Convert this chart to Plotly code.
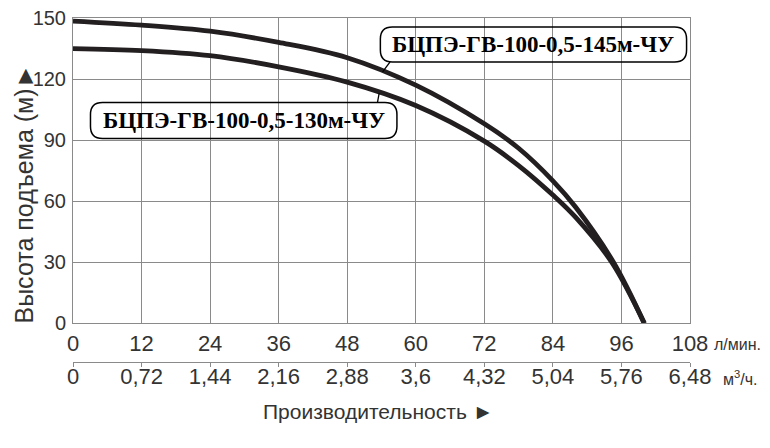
import numpy as np
import plotly.graph_objects as go

# ----- данные -----
q_145 = [0, 12, 24, 36, 48, 60, 72, 78, 84, 88, 94.6, 100]
h_145 = [148.5, 146.5, 143.5, 138, 130.5, 117, 98, 86, 70, 57, 30, 0]

q_130 = [0, 12, 24, 36, 48, 60, 72, 78, 84, 88, 94.3, 100]
h_130 = [135, 134, 131.5, 126, 118.5, 107, 89.5, 77.5, 63, 52, 30, 0]

lpm_ticks = [0, 12, 24, 36, 48, 60, 72, 84, 96, 108]
m3h_labels = ["0", "0,72", "1,44", "2,16", "2,88", "3,6", "4,32", "5,04", "5,76", "6,48"]
head_ticks = [0, 30, 60, 90, 120, 150]

name_145 = "БЦПЭ-ГВ-100-0,5-145м-ЧУ"
name_130 = "БЦПЭ-ГВ-100-0,5-130м-ЧУ"

SANS = "Liberation Sans, Arial, sans-serif"
SERIF = "Liberation Serif, Times New Roman, serif"
GRID = "#8a8a8a"
INK = "#231f20"
TXT = "#333333"

# пикселей на единицу данных (для скругления рамок)
PX_X = 617.5 / 108
PX_Y = 305.6 / 150


def pill(x0, x1, y0, y1, r=12):
    rx, ry = r / PX_X, r / PX_Y
    return (f"M {x0+rx},{y1} L {x1-rx},{y1} Q {x1},{y1} {x1},{y1-ry} "
            f"L {x1},{y0+ry} Q {x1},{y0} {x1-rx},{y0} L {x0+rx},{y0} "
            f"Q {x0},{y0} {x0},{y0+ry} L {x0},{y1-ry} Q {x0},{y1} {x0+rx},{y1} Z")


fig = go.Figure()

fig.add_trace(go.Scatter(x=q_145, y=h_145, mode="lines", name=name_145,
                         line=dict(color=INK, width=4.8, shape="spline", smoothing=1.0)))
fig.add_trace(go.Scatter(x=q_130, y=h_130, mode="lines", name=name_130,
                         line=dict(color=INK, width=4.8, shape="spline", smoothing=1.0)))
# пустой след, чтобы нижняя шкала (м3/ч) отрисовалась
fig.add_trace(go.Scatter(x=[0], y=[0], xaxis="x2", mode="markers",
                         marker=dict(opacity=0), showlegend=False, hoverinfo="skip"))

# рамки подписей и выноски
boxes = [
    (name_145, 53.8, 107.4, 128.4, 145.6, 55.5, 54.2, q_145, h_145),
    (name_130, 3.06, 56.7, 90.8, 108.5, 53.3, 53.6, q_130, h_130),
]
shapes = []
annotations = []
for text, x0, x1, y0, y1, lx, cx, qs, hs in boxes:
    shapes.append(dict(type="path", path=pill(x0, x1, y0, y1), xref="x", yref="y",
                       line=dict(color="black", width=1.5)))
    edge = y0 if y0 > np.interp(lx, qs, hs) else y1
    shapes.append(dict(type="line", xref="x", yref="y", x0=lx, y0=edge,
                       x1=cx, y1=float(np.interp(cx, qs, hs)),
                       line=dict(color="black", width=1.3)))
    annotations.append(dict(x=(x0 + x1) / 2, y=(y0 + y1) / 2, xref="x", yref="y",
                            text=f"<b>{text}</b>", showarrow=False,
                            font=dict(family=SERIF, size=23, color="black")))

annotations += [
    dict(x=1.035, y=0.203, xref="paper", yref="paper", xanchor="left", yanchor="middle",
         text="л/мин.", showarrow=False, font=dict(family=SANS, size=16, color=TXT)),
    dict(x=1.050, y=0.122, xref="paper", yref="paper", xanchor="left", yanchor="middle",
         text="м<sup>3</sup>/ч.", showarrow=False, font=dict(family=SANS, size=16, color=TXT)),
    dict(x=0.495, y=0.041, xref="paper", yref="paper", xanchor="center", yanchor="middle",
         text="Производительность ►", showarrow=False, font=dict(family=SANS, size=21, color=TXT)),
    dict(x=-0.080, y=0.571, xref="paper", yref="paper", xanchor="center", yanchor="middle",
         text="Высота подъема (м)►", textangle=-90, showarrow=False,
         font=dict(family=SANS, size=25, color=TXT)),
]

# страница имеет отступ 8px, поэтому холст 762x440
fig.update_layout(
    template="none",
    width=762, height=440,
    margin=dict(l=64.5, r=80, t=10, b=20),
    paper_bgcolor="white", plot_bgcolor="white",
    showlegend=False,
    shapes=shapes, annotations=annotations,
    xaxis=dict(range=[0, 108], tickmode="array", tickvals=lpm_ticks,
               ticktext=[str(v) for v in lpm_ticks], automargin=False,
               showgrid=True, gridcolor=GRID, gridwidth=1,
               showline=True, linecolor=GRID, linewidth=1, mirror=True,
               ticks="", zeroline=False, ticklabelstandoff=0,
               ticklabeloverflow="allow",
               tickfont=dict(family=SANS, size=22, color=TXT)),
    xaxis2=dict(range=[0, 108], overlaying="x", anchor="free", position=0.1617, side="bottom",
                tickmode="array", tickvals=lpm_ticks, ticktext=m3h_labels, automargin=False,
                showgrid=False, showline=True, linecolor=GRID, linewidth=1,
                ticks="outside", ticklen=4, tickcolor=GRID, zeroline=False,
                ticklabelstandoff=-9, ticklabeloverflow="allow",
                tickfont=dict(family=SANS, size=22, color=TXT)),
    yaxis=dict(range=[0, 150], domain=[0.2554, 1], tickmode="array", tickvals=head_ticks,
               automargin=False,
               showgrid=True, gridcolor=GRID, gridwidth=1,
               showline=True, linecolor=GRID, linewidth=1, mirror=True,
               ticks="", zeroline=False, ticklabelstandoff=2,
               ticklabeloverflow="allow",
               tickfont=dict(family=SANS, size=20, color=TXT)),
)

fig.write_html("out.html")
